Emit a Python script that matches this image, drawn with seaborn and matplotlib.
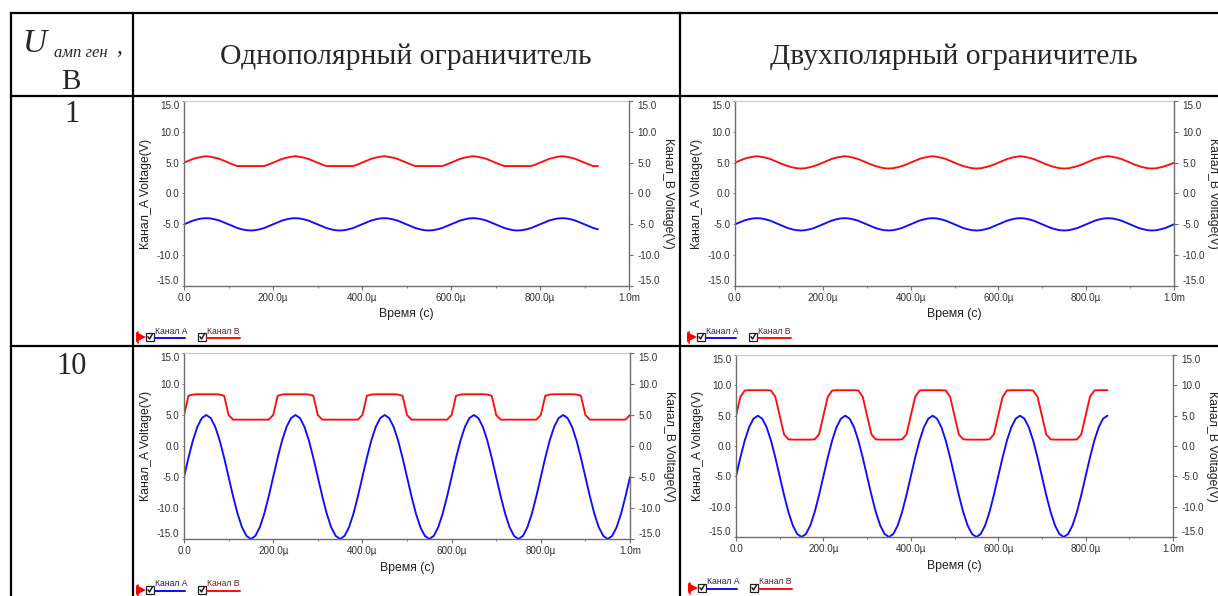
import numpy as np
import matplotlib
matplotlib.use("Agg")
import matplotlib.pyplot as plt
from matplotlib.ticker import FixedLocator, FixedFormatter
import seaborn as sns

# one period (200 us) of every trace, every 10 us
step_us = 10
chan_a_1 = [-5.0, -4.7, -4.4, -4.2, -4.05, -4.0, -4.05, -4.2, -4.4, -4.7,
            -5.0, -5.3, -5.6, -5.8, -5.95, -6.0, -5.95, -5.8, -5.6, -5.3]
uni_b_1 = [5.0, 5.3, 5.6, 5.8, 5.95, 6.05, 5.95, 5.8, 5.6, 5.3,
           5.0, 4.7, 4.45, 4.45, 4.45, 4.45, 4.45, 4.45, 4.45, 4.7]
bi_b_1 = [5.0, 5.3, 5.6, 5.8, 5.95, 6.05, 5.95, 5.8, 5.6, 5.3,
          5.0, 4.7, 4.45, 4.25, 4.1, 4.05, 4.1, 4.25, 4.45, 4.7]
chan_a_10 = [-5.0, -1.9, 0.9, 3.1, 4.5, 5.0, 4.5, 3.1, 0.9, -1.9,
             -5.0, -8.1, -10.9, -13.1, -14.5, -15.0, -14.5, -13.1, -10.9, -8.1]
uni_b_10 = [5.0, 8.1, 8.3, 8.35, 8.35, 8.35, 8.35, 8.35, 8.3, 8.1,
            5.0, 4.25, 4.25, 4.25, 4.25, 4.25, 4.25, 4.25, 4.25, 4.25]
bi_b_10 = [5.0, 8.1, 9.15, 9.2, 9.2, 9.2, 9.2, 9.2, 9.15, 8.1,
           5.0, 1.9, 1.1, 1.05, 1.05, 1.05, 1.05, 1.05, 1.1, 1.9]

# where each trace stops, us
end_uni_1 = 930
end_bi_1 = 1000
end_uni_10 = 1000
end_bi_10 = 850

row_labels = ["1", "10"]
col_titles = ["Однополярный ограничитель", "Двухполярный ограничитель"]
x_ticks = [0, 200, 400, 600, 800, 1000]
x_tick_labels = ["0.0", "200.0µ", "400.0µ", "600.0µ", "800.0µ", "1.0m"]
x_minor = [100, 300, 500, 700, 900]
y_ticks = [15, 10, 5, 0, -5, -10, -15]
y_tick_labels = ["15.0", "10.0", "5.0", "0.0", "-5.0", "-10.0", "-15.0"]

sns.set_style("white")
plt.rcParams["font.family"] = ["Liberation Sans", "DejaVu Sans"]
plt.rcParams["axes.unicode_minus"] = False

W, H = 1218, 596
fig = plt.figure(figsize=(W / 100, H / 100), dpi=100)

# background layer in pixel units for the table
bg = fig.add_axes([0, 0, 1, 1])
bg.set_xlim(0, W)
bg.set_ylim(H, 0)
bg.axis("off")

lw_tab = 1.6
for y in [13, 96, 346]:
    bg.plot([11, W], [y, y], color="black", lw=lw_tab, solid_capstyle="projecting")
for x in [11, 133, 680]:
    bg.plot([x, x], [13, H], color="black", lw=lw_tab, solid_capstyle="projecting")

serif = ["Liberation Serif", "DejaVu Serif"]
bg.text(35, 52, "U", fontfamily=serif, style="italic", fontsize=24, ha="center", va="baseline")
bg.text(81, 57, "амп ген", fontfamily=serif, style="italic", fontsize=12, ha="center", va="baseline")
bg.text(119, 53, ",", fontfamily=serif, fontsize=17, ha="center", va="baseline")
bg.text(71, 89, "В", fontfamily=serif, fontsize=21, ha="center", va="baseline")
bg.text(406, 64, col_titles[0], fontfamily=serif, fontsize=21.3, ha="center", va="baseline")
bg.text(954, 64, col_titles[1], fontfamily=serif, fontsize=21.3, ha="center", va="baseline")
bg.text(72, 122, row_labels[0], fontfamily=serif, fontsize=22, ha="center", va="baseline")
bg.text(72, 374, row_labels[1], fontfamily=serif, fontsize=22, ha="center", va="baseline")

blue = "#0c0cff"
red = "#ff0c0c"
spine_c = "#6e6e6e"
tick_c = "#303030"

panels = [
    ((184, 101, 629, 286), chan_a_1, uni_b_1, end_uni_1),
    ((735, 101, 1174, 286), chan_a_1, bi_b_1, end_bi_1),
    ((184, 353, 630, 539), chan_a_10, uni_b_10, end_uni_10),
    ((736, 355, 1173, 537), chan_a_10, bi_b_10, end_bi_10),
]


def checkbox(x, y):
    bg.plot(x, y, marker="s", ms=5.5, mfc="white", mec="#202020", mew=0.9)
    bg.plot([x - 2, x - 0.5, x + 2.2], [y - 0.3, y + 2, y - 2.6], color="#101010", lw=1.0)


for (l, t, r, b), a_per, b_per, end in panels:
    ax = fig.add_axes([l / W, 1 - b / H, (r - l) / W, (b - t) / H])
    time = np.arange(0, end + 1, step_us)
    va = np.resize(a_per, len(time))
    vb = np.resize(b_per, len(time))
    sns.lineplot(x=time, y=va, color=blue, lw=1.35, ax=ax)
    sns.lineplot(x=time, y=vb, color=red, lw=1.35, ax=ax)
    ax.set_xlim(0, 1000)
    ax.set_ylim(-15, 15)

    ax.xaxis.set_major_locator(FixedLocator(x_ticks))
    ax.xaxis.set_major_formatter(FixedFormatter(x_tick_labels))
    ax.xaxis.set_minor_locator(FixedLocator(x_minor))
    ax.yaxis.set_major_locator(FixedLocator(y_ticks))
    ax.yaxis.set_major_formatter(FixedFormatter(y_tick_labels))
    ax.tick_params(axis="x", which="major", direction="out", length=3, width=0.8,
                   color=spine_c, pad=2, labelsize=7.1, labelcolor=tick_c, bottom=True)
    ax.tick_params(axis="x", which="minor", direction="out", length=1.5, width=0.6,
                   color=spine_c, bottom=True)
    ax.tick_params(axis="y", direction="out", length=1.5, width=0.6, color=spine_c,
                   pad=2, labelsize=7.1, labelcolor=tick_c, left=True)
    ax.set_xlabel("Время (с)", fontsize=8.8, color="#202020", labelpad=4)
    ax.set_ylabel("Канал_A Voltage(V)", fontsize=8.8, color="#202020", labelpad=3)

    ax2 = ax.twinx()
    ax2.set_ylim(-15, 15)
    ax2.yaxis.set_major_locator(FixedLocator(y_ticks))
    ax2.yaxis.set_major_formatter(FixedFormatter(y_tick_labels))
    ax2.tick_params(axis="y", direction="out", length=3, width=0.8, color=spine_c,
                    pad=3, labelsize=7.1, labelcolor=tick_c, right=True)
    ax2.set_ylabel("Канал_B Voltage(V)", fontsize=8.8, color="#202020",
                   rotation=-90, va="bottom", labelpad=1.5)

    for axis in (ax, ax2):
        for sp in axis.spines.values():
            sp.set_visible(False)
    ax.spines["left"].set_visible(True)
    ax.spines["bottom"].set_visible(True)
    ax.spines["top"].set_visible(True)
    ax2.spines["right"].set_visible(True)
    for sp in (ax.spines["left"], ax.spines["bottom"], ax2.spines["right"]):
        sp.set_color(spine_c)
        sp.set_linewidth(1.0)
    ax.spines["top"].set_color("#c8c8c8")
    ax.spines["top"].set_linewidth(0.8)

    # end labels are pushed inside the axis, as in the grapher
    for axis in (ax, ax2):
        labs = axis.get_yticklabels()
        labs[0].set_va("top")
        labs[-1].set_va("bottom")

    # legend strip under the plot
    ly = b + 46
    bg.plot(l - 43, ly + 5, marker=">", color="red", ms=6.5, mew=0)
    bg.plot([l - 46, l - 46], [ly, ly + 11], color="red", lw=1.2)
    checkbox(l - 34, ly + 5)
    bg.text(l - 29, ly - 1, "Канал А", fontsize=6.2, color="#202060", ha="left", va="center")
    bg.plot([l - 29, l + 1], [ly + 6, ly + 6], color=blue, lw=1.4)
    checkbox(l + 18, ly + 5)
    bg.text(l + 23, ly - 1, "Канал B", fontsize=6.2, color="#602020", ha="left", va="center")
    bg.plot([l + 23, l + 56], [ly + 6, ly + 6], color=red, lw=1.4)

fig.savefig("out.png", dpi=100)
